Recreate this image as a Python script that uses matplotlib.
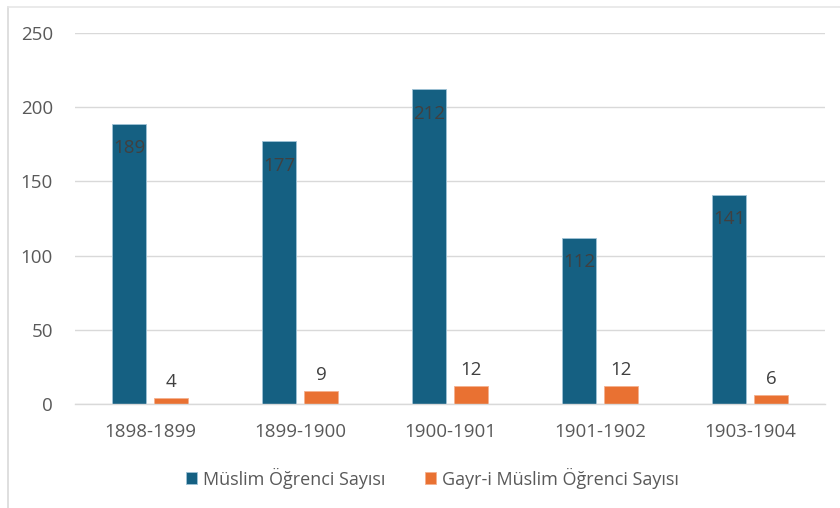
import matplotlib
matplotlib.use("Agg")
import matplotlib.pyplot as plt
import numpy as np
from matplotlib.lines import Line2D

categories = ["1898-1899", "1899-1900", "1900-1901", "1901-1902", "1903-1904"]
muslim = [189, 177, 212, 112, 141]
gayri = [4, 9, 12, 12, 6]
series_names = ["Müslim Öğrenci Sayısı", "Gayr-i Müslim Öğrenci Sayısı"]
yticks = [0, 50, 100, 150, 200, 250]

plt.rcParams['font.family'] = ['Open Sans', 'DejaVu Sans']

fig = plt.figure(figsize=(8.4, 5.08), dpi=100)
# light frame lines on left and top edge
fig.add_artist(Line2D([0.0095, 0.0095], [0, 0.986], transform=fig.transFigure, color='#d9d9d9', linewidth=1.2))
fig.add_artist(Line2D([0.0095, 1.0], [0.986, 0.986], transform=fig.transFigure, color='#e6e6e6', linewidth=1.2))
ax = fig.add_axes([0.0893, 0.2047, 0.8929, 0.7303])

x = np.arange(len(categories))
w = 0.227
off = 0.14
blue = '#156082'
orange = '#E97132'
b1 = ax.bar(x - off, muslim, w, color=blue, edgecolor='#9fc3d6', linewidth=0.6, label=series_names[0], zorder=3)
b2 = ax.bar(x + off, gayri, w, color=orange, edgecolor='#f5b08e', linewidth=0.6, label=series_names[1], zorder=3)

fs = 13.5
for xi, v in zip(x, muslim):
    ax.annotate(str(v), (xi - off, v), xytext=(0, -11), textcoords='offset points',
                ha='center', va='top', fontsize=fs, color='#404040', zorder=4)
for xi, v in zip(x, gayri):
    ax.annotate(str(v), (xi + off, v), xytext=(0, 5), textcoords='offset points',
                ha='center', va='bottom', fontsize=fs, color='#404040', zorder=4)

ax.set_xlim(-0.5, len(categories) - 0.5)
ax.set_ylim(0, 250)
ax.set_yticks(yticks)
ax.set_xticks(x)
ax.set_xticklabels(categories)
ax.tick_params(axis='both', length=0, labelsize=fs, colors='#595959')
ax.tick_params(axis='y', pad=16)
ax.tick_params(axis='x', pad=14)
ax.yaxis.grid(True, color='#d9d9d9', linewidth=1.0, zorder=0)
ax.set_axisbelow(True)
for s in ['top', 'right', 'left']:
    ax.spines[s].set_visible(False)
ax.spines['bottom'].set_color('#d9d9d9')
ax.spines['bottom'].set_linewidth(1.0)
ax.spines['bottom'].set_zorder(5)

leg = fig.legend(handles=[b1, b2], labels=series_names, loc='center', bbox_to_anchor=(0.515, 0.059),
                 ncol=2, frameon=False, fontsize=13, handlelength=0.6, handleheight=0.6,
                 handletextpad=0.35, columnspacing=2.2, labelcolor='#595959')

fig.savefig("out.png", dpi=100)
